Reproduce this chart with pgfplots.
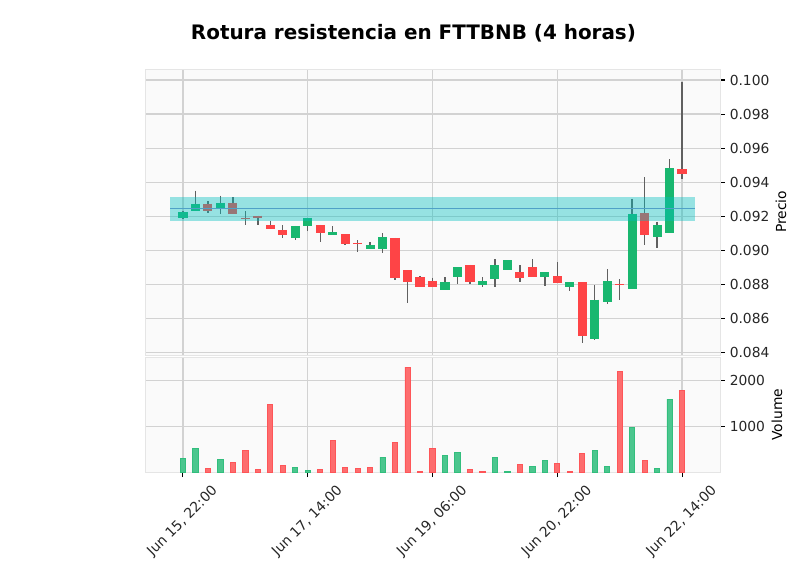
\documentclass[border=0pt]{standalone}
\usepackage{fontspec}
\setmainfont{DejaVu Sans}
\usepackage{pgfplots}
\usepackage{pgfplotstable}
\pgfplotsset{compat=1.18}

\definecolor{up}{RGB}{25,183,111}
\definecolor{dn}{RGB}{254,68,70}
\definecolor{vup}{RGB}{75,198,142}
\definecolor{vupedge}{RGB}{50,190,125}
\definecolor{vdn}{RGB}{253,109,110}
\definecolor{vdnedge}{RGB}{254,85,88}
\definecolor{wick}{RGB}{96,96,96}
\definecolor{band}{RGB}{0,191,191}
\definecolor{bline}{RGB}{79,161,199}
\definecolor{gridc}{RGB}{210,210,210}

% 4h candles: index, open, high, low, close, volume, volume colour (1 = green)
\pgfplotstableread{
i o h l c v vc
0 0.09187 0.09230 0.09185 0.09223 311 1
1 0.09229 0.09351 0.09229 0.09274 528 1
2 0.09274 0.09288 0.09219 0.09229 93 0
3 0.09246 0.09321 0.09215 0.09280 289 1
4 0.09280 0.09313 0.09213 0.09213 224 0
5 0.09192 0.09229 0.09148 0.09190 485 0
6 0.09203 0.09203 0.09148 0.09187 72 0
7 0.09150 0.09175 0.09128 0.09128 1485 0
8 0.09120 0.09146 0.09071 0.09087 159 0
9 0.09075 0.09144 0.09061 0.09144 115 1
10 0.09140 0.09191 0.09115 0.09191 50 1
11 0.09150 0.09150 0.09048 0.09099 72 0
12 0.09087 0.09142 0.09087 0.09105 702 0
13 0.09093 0.09093 0.09030 0.09040 115 0
14 0.09045 0.09060 0.08989 0.09043 93 0
15 0.09010 0.09048 0.09010 0.09032 115 0
16 0.09010 0.09101 0.08983 0.09079 333 1
17 0.09073 0.09073 0.08825 0.08837 659 0
18 0.08884 0.08884 0.08688 0.08815 2289 0
19 0.08843 0.08849 0.08786 0.08786 28 0
20 0.08822 0.08839 0.08786 0.08786 528 0
21 0.08768 0.08841 0.08768 0.08812 376 1
22 0.08845 0.08902 0.08800 0.08902 441 1
23 0.08914 0.08914 0.08800 0.08813 72 0
24 0.08798 0.08841 0.08786 0.08819 28 0
25 0.08829 0.08947 0.08782 0.08912 333 1
26 0.08886 0.08942 0.08886 0.08942 28 1
27 0.08871 0.08912 0.08812 0.08839 180 0
28 0.08900 0.08947 0.08845 0.08845 137 1
29 0.08845 0.08871 0.08790 0.08871 267 1
30 0.08849 0.08930 0.08809 0.08809 202 0
31 0.08786 0.08813 0.08760 0.08813 28 0
32 0.08813 0.08813 0.08455 0.08496 420 0
33 0.08479 0.08796 0.08471 0.08711 485 1
34 0.08697 0.08888 0.08682 0.08818 137 1
35 0.08802 0.08829 0.08711 0.08800 2202 0
36 0.08770 0.09302 0.08770 0.09215 985 1
37 0.09219 0.09429 0.09032 0.09089 267 0
38 0.09077 0.09169 0.09012 0.09150 93 1
39 0.09101 0.09534 0.09101 0.09481 1593 1
40 0.09475 0.09990 0.09421 0.09449 1789 0
}\candles

\pgfplotsset{
  panel/.style={
    scale only axis, width=414bp,
    xmin=-3.04, xmax=43.04,
    axis background/.style={fill=black!2},
    grid=major,
    major grid style={draw=gridc, line width=0.85bp},
    axis line style={draw=black!10},
    tick align=outside, major tick length=3.5bp,
    tick style={black, line width=0.8bp},
    ytick pos=right, yticklabel pos=right,
    xtick={0,10,20,30,40},
    scaled y ticks=false,
    ticklabel style={text=black!85},
    /pgf/number format/assume math mode=true,
  },
  range/.style 2 args={draw=none, mark=none, forget plot,
    error bars/.cd, y dir=minus, y explicit, error mark=none,
    error bar style={draw=#1, line width=#2}},
}

\begin{document}
\begin{tikzpicture}
\useasboundingbox (0,0) rectangle (576bp,-414bp);
\node[font=\fontsize{14.4}{17}\selectfont\bfseries] at (297.7bp,-23.8bp)
  {Rotura resistencia en FTTBNB (4 horas)};

\begin{axis}[panel,
  at={(104.4bp,-255.6bp)}, anchor=south west, height=205.9bp,
  ymin=0.083852, ymax=0.100646,
  ytick={0.084,0.086,0.088,0.090,0.092,0.094,0.096,0.098,0.100},
  yticklabel style={/pgf/number format/.cd, fixed, fixed zerofill, precision=3},
  xticklabels={}, xtick style={draw=none},
  ylabel={Precio},
  every axis y label/.style={at={(axis description cs:1.106,0.5)}, rotate=90, anchor=center},
]
% wicks
\addplot[range={wick}{1bp}]
  table[x=i, y=h, y error minus expr={\thisrow{h}-\thisrow{l}}] {\candles};
% bodies
\addplot[range={up}{6.6bp}] table[x=i,
  y expr={\thisrow{c}>=\thisrow{o} ? \thisrow{c} : nan},
  y error minus expr={max(\thisrow{c}-\thisrow{o},0.00004)}] {\candles};
\addplot[range={dn}{6.6bp}] table[x=i,
  y expr={\thisrow{c}<\thisrow{o} ? \thisrow{o} : nan},
  y error minus expr={max(\thisrow{o}-\thisrow{c},0.00004)}] {\candles};
% resistance band
\addplot[fill=band, fill opacity=0.4, draw=none, forget plot]
  coordinates {(-1,0.09175) (41,0.09175) (41,0.09315) (-1,0.09315)} -- cycle;
\addplot[color=bline, line width=0.8bp, forget plot]
  coordinates {(-1,0.09243) (41,0.09243)};
\end{axis}

\begin{axis}[panel,
  at={(104.4bp,-340.1bp)}, anchor=south west, height=83bp,
  ymin=0, ymax=2507,
  ytick={1000,2000},
  yticklabel style={/pgf/number format/1000 sep={}},
  xtick pos=left,
  xticklabels={{Jun 15, 22:00},{Jun 17, 14:00},{Jun 19, 06:00},{Jun 20, 22:00},{Jun 22, 14:00}},
  xticklabel style={xshift=20bp, rotate=45, anchor=north east},
  ylabel={Volume},
  every axis y label/.style={at={(axis description cs:1.099,0.5)}, rotate=90, anchor=center},
]
\addplot[ybar, bar width=0.42, bar shift=0pt, fill=vup, draw=vupedge, line width=0.6bp]
  table[x=i, y expr={\thisrow{vc}==1 ? \thisrow{v} : nan}] {\candles};
\addplot[ybar, bar width=0.42, bar shift=0pt, fill=vdn, draw=vdnedge, line width=0.6bp]
  table[x=i, y expr={\thisrow{vc}==0 ? \thisrow{v} : nan}] {\candles};
\end{axis}
\end{tikzpicture}
\end{document}
